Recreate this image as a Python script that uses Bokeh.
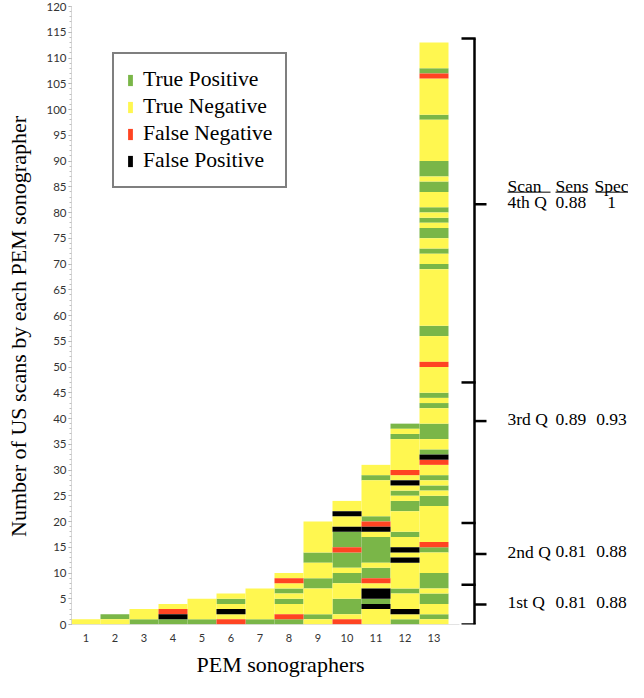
from bokeh.plotting import figure
from bokeh.models import (ColumnDataSource, FixedTicker, SingleIntervalTicker,
                          Legend, LegendItem, Title, Range1d)
from bokeh.embed import file_html
from bokeh.resources import INLINE
from bokeh.core.properties import value

# ---------------- data ----------------
sonographers = list(range(1, 14))
# outcome of every scan, first scan (bottom) to last scan (top)
# G = true positive, Y = true negative, R = false negative, K = false positive
scans = [
    "Y",
    "YG",
    "GYY",
    "GKRY",
    "GYYYY",
    "RYKYGY",
    "GYYYYYY",
    "GRYYGYGYRY",
    "YGYYYYYGGYYYGGYYYYYY",
    "RYGGGYYYGGYGGGRGGGKYYKYY",
    "YYYKGKKYRGGYGGGGGYKRGYYYYYYYGYY",
    "GYKYYYGYYYYYKYKYYGYYYYGGYGYKYRYYYYYYGYG",
    "YGYYGGYGGG" "YYYY" "GR" "YYYYYYY" "GGYGYG" "YYRKG" "YYGGG" "YYYGYG"
    "YYYYYR" "YYYYYGG" "YYYYYYYYYYY" "GYYGYYGG" "YGYG" "YYYGGY" "GGG"
    "YYYYYYYY" "G" "YYYYYYY" "RG" "YYYYY",
]
outcome_codes = ["G", "Y", "R", "K"]
outcome_names = ["True Positive", "True Negative", "False Negative", "False Positive"]
outcome_colors = ["#7AB648", "#FFF750", "#FF4422", "#000000"]

quartiles = ["1st Q", "2nd Q", "3rd Q", "4th Q"]
q_bounds = [0, 7.7, 19.7, 47.0, 113.8]     # bracket ends / dividers (scans)
q_marks = [3.9, 13.7, 39.5, 81.6]          # bracket pointer for each quartile
sens = ["0.81", "0.81", "0.89", "0.88"]
spec = ["0.88", "0.88", "0.93", "1"]
header = ["Scan", "Sens", "Spec"]

# ---------------- layout helpers (page px -> data x) ----------------
PX_PER_UNIT = 29.0
def xd(page_x):
    return 0.5 + (page_x - 79.0) / PX_PER_UNIT

p = figure(width=628, height=682,
           x_range=Range1d(0.5, 0.5 + 557 / PX_PER_UNIT), y_range=Range1d(0, 120),
           output_backend="svg", toolbar_location=None,
           min_border_left=71, min_border_right=0, min_border_top=6, min_border_bottom=58)
p.grid.visible = False
p.outline_line_color = None
p.background_fill_color = "white"

# ---------------- stacked cells ----------------
renderers = []
for code, color in zip(outcome_codes, outcome_colors):
    xs, bots, tops = [], [], []
    for son, seq in zip(sonographers, scans):
        start = 0
        for k in range(1, len(seq) + 1):
            if k == len(seq) or seq[k] != seq[start]:
                if seq[start] == code:
                    xs.append(son); bots.append(start); tops.append(k)
                start = k
    src = ColumnDataSource(dict(x=xs, bottom=bots, top=tops))
    r = p.vbar(x="x", width=1.0, bottom="bottom", top="top", source=src,
               fill_color=color, line_color=None)
    renderers.append(r)

# baseline
p.segment(x0=[0.5], y0=[0], x1=[xd(467)], y1=[0], line_color="#c8c8c8", line_width=1)

# ---------------- axes ----------------
xa = p.xaxis[0]
xa.ticker = FixedTicker(ticks=sonographers)
xa.axis_line_color = None
xa.major_tick_line_color = None
xa.major_tick_out = 0
xa.major_tick_in = 0
xa.minor_tick_line_color = None
xa.major_label_standoff = 9
xa.major_label_text_font = "Lato"
xa.major_label_text_font_size = "11px"
xa.major_label_text_color = "#333333"

ya = p.yaxis[0]
ya.ticker = SingleIntervalTicker(interval=5, num_minor_ticks=5)
ya.axis_line_color = "#b0b0b0"
ya.axis_line_dash = "1 1"
ya.major_tick_line_color = "#a0a0a0"
ya.major_tick_out = 3
ya.major_tick_in = 0
ya.minor_tick_line_color = "#c0c0c0"
ya.minor_tick_out = 2
ya.minor_tick_in = 0
ya.major_label_standoff = 2
ya.major_label_text_font = "Lato"
ya.major_label_text_font_size = "11.5px"
ya.major_label_text_color = "#333333"
# trailing no-break spaces nudge the centred label slightly downwards
ya.axis_label = "Number of US scans by each PEM sonographer" + "\u00a0" * 4
ya.axis_label_text_font = "Liberation Serif"
ya.axis_label_text_font_size = "22px"
ya.axis_label_text_font_style = "normal"
ya.axis_label_text_color = "black"
ya.axis_label_standoff = 12

xt = Title(text="PEM sonographers", align="left", offset=125,
           text_font="Liberation Serif", text_font_size="22px",
           text_font_style="normal", text_color="black", standoff=11)
p.add_layout(xt, "below")

# ---------------- legend ----------------
legend = Legend(items=[LegendItem(label=n, renderers=[r]) for n, r in zip(outcome_names, renderers)],
                location=(41, 436), glyph_width=6, glyph_height=14, label_standoff=10,
                padding=13, spacing=2, margin=0,
                label_text_font="Liberation Serif", label_text_font_size="21.7px",
                label_text_color="black",
                border_line_color="black", border_line_width=2,
                background_fill_color="white", background_fill_alpha=1)
p.add_layout(legend)

# ---------------- quartile brackets ----------------
xv = xd(482)
p.segment(x0=[xv], y0=[q_bounds[0]], x1=[xv], y1=[q_bounds[-1]],
          line_color="black", line_width=2.5)
p.segment(x0=[xd(469)] * len(q_bounds), y0=q_bounds, x1=[xv + 0.04] * len(q_bounds), y1=q_bounds,
          line_color="black", line_width=2.5)
p.segment(x0=[xv] * len(q_marks), y0=q_marks, x1=[xd(494)] * len(q_marks), y1=q_marks,
          line_color="black", line_width=2.5)

ty = [m + 0.4 for m in q_marks]
font = value("Liberation Serif")
fs = value("17.5px")
p.text(x=[xd(515)] * 4, y=ty, text=quartiles, text_font=font, text_font_size=fs,
       text_align="left", text_baseline="middle", text_color="black")
p.text(x=[xd(563)] * 4, y=ty, text=sens, text_font=font, text_font_size=fs,
       text_align="left", text_baseline="middle", text_color="black")
p.text(x=[xd(619)] * 4, y=ty, text=spec, text_font=font, text_font_size=fs,
       text_align="center", text_baseline="middle", text_color="black")

hy = q_marks[-1] + 3.6
p.text(x=[xd(515), xd(563)], y=[hy] * 2, text=header[:2], text_font=font,
       text_font_size=fs, text_align="left", text_baseline="middle", text_color="black")
p.text(x=[xd(619)], y=[hy], text=header[2:], text_font=font,
       text_font_size=fs, text_align="center", text_baseline="middle", text_color="black")
uy = hy - 1.25
p.segment(x0=[xd(515), xd(563), xd(603)], y0=[uy] * 3,
          x1=[xd(558), xd(595), xd(636)], y1=[uy] * 3, line_color="black", line_width=1)

open("out.html", "w").write(file_html(p, INLINE))
